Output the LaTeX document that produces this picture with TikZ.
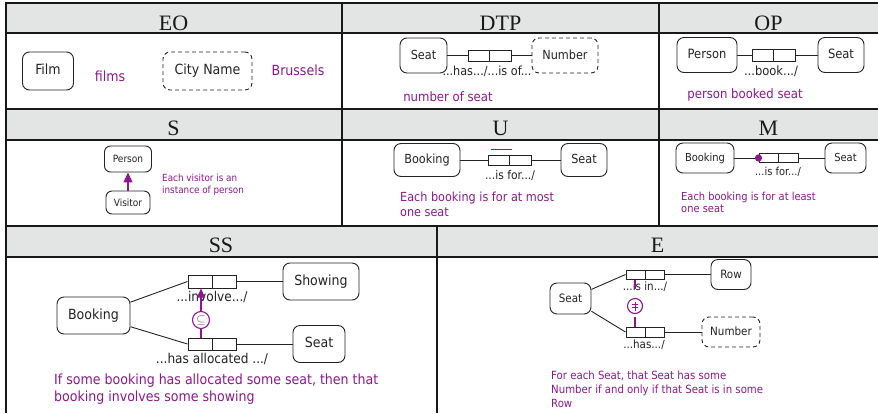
\documentclass[tikz,border=0pt]{standalone}
\usepackage{fontspec}
\setmainfont{DejaVu Sans Condensed}
\newfontfamily\titlefont{Liberation Serif}
\usetikzlibrary{arrows.meta}
\definecolor{orm}{RGB}{140,24,140}
\definecolor{hdr}{RGB}{227,228,228}
\definecolor{ink}{RGB}{35,35,35}
\newcommand\fsz[2]{\fontsize{#1}{#2}\selectfont}
\begin{document}
\begin{tikzpicture}[x=1pt,y=-1pt,
  ent/.style={draw=ink, line width=0.9pt, rounded corners=7pt, inner sep=0pt,
    text=ink, text height=0.73em, text depth=0pt},
  valuebox/.style={ent, dash pattern=on 4pt off 3pt},
  role/.style={draw=ink, line width=1pt, inner sep=0pt,
    path picture={\draw[ink, line width=1pt] (path picture bounding box.north) -- (path picture bounding box.south);}},
  link/.style={draw=ink, line width=0.9pt},
  lbl/.style={text=ink, inner sep=0pt, text height=0.73em, text depth=0pt},
  note/.style={text=orm, inner sep=0pt, align=left},
  ttl/.style={font=\titlefont\fsz{22}{26}, inner sep=0pt, anchor=base, text=black!90},
  gridline/.style={line width=2pt, draw=black!90},
  cons/.style={draw=orm, line width=1.1pt, circle, inner sep=0pt},
  consline/.style={draw=orm, line width=1.2pt}
]
\useasboundingbox (0,0) rectangle (878,413);

% header bands
\fill[hdr] (6,3) rectangle (878,33);
\fill[hdr] (6,108) rectangle (878,140);
\fill[hdr] (6,226) rectangle (878,257);

% table rules
\foreach \yy in {3,33,108.5,140,226,257}
  \draw[gridline] (5,\yy) -- (878,\yy);
\draw[gridline] (6,2) -- (6,413);
\draw[gridline] (342,3) -- (342,226);
\draw[gridline] (659,3) -- (659,226);
\draw[gridline] (437,226) -- (437,413);

% titles
\node[ttl] (tEO)  at (173.5,30.5) {EO};
\node[ttl] (tDTP) at (500.5,30.5) {DTP};
\node[ttl] (tOP)  at (768.5,30.5) {OP};
\node[ttl] (tS)   at (173.5,135.5) {S};
\node[ttl] (tU)   at (500.5,135.5) {U};
\node[ttl] (tM)   at (768.5,135.5) {M};
\node[ttl] (tSS)  at (221,252) {SS};
\node[ttl] (tE)   at (657.5,252) {E};

% ---------- EO ----------
\begin{scope}[font=\fsz{14}{17}]
\node[ent, minimum width=51, minimum height=38] (film) at (48,71) {Film};
\node[note] (films) at (110,76) {films};
\node[valuebox, minimum width=89, minimum height=38] (city) at (207.5,71) {City Name};
\node[note, text height=0.73em] (bru) at (298,72) {Brussels};
\end{scope}

% ---------- DTP ----------
\begin{scope}[font=\fsz{12.5}{15}]
\node[ent, minimum width=47, minimum height=35] (dseat) at (423.5,55.5) {Seat};
\node[role, minimum width=43, minimum height=11] (drole) at (489.5,55.5) {};
\node[valuebox, minimum width=66, minimum height=35] (dnum) at (565,55.5) {Number};
\draw[link] (dseat) -- (drole);
\draw[link] (drole) -- (dnum);
\node[lbl] (dlab) at (487,71.5) {...has.../...is of...};
\node[note, font=\fsz{13}{15}] (dnote) at (448,96.5) {number of seat};
\end{scope}

% ---------- OP ----------
\begin{scope}[font=\fsz{12.8}{15}]
\node[ent, minimum width=60, minimum height=35] (operson) at (707,55) {Person};
\node[role, minimum width=43, minimum height=12] (orole) at (773.5,55) {};
\node[ent, minimum width=46, minimum height=35] (oseat) at (841,55) {Seat};
\draw[link] (operson) -- (orole);
\draw[link] (orole) -- (oseat);
\node[lbl] (olab) at (771,72) {...book.../};
\node[note, font=\fsz{13}{15}] (onote) at (745,95) {person booked seat};
\end{scope}

% ---------- S ----------
\begin{scope}[font=\fsz{10}{12}]
\node[ent, rounded corners=6pt, minimum width=47, minimum height=26] (sperson) at (128,159) {Person};
\node[ent, rounded corners=6pt, minimum width=44, minimum height=23] (svisitor) at (128,202.5) {Visitor};
\draw[orm, line width=1.2pt, -{Triangle[length=10pt,width=9pt]}] (svisitor) -- (sperson);
\node[note, anchor=north west, font=\fsz{9.8}{12}] (snote) at (162,173.5) {Each visitor is an\\instance of person};
\end{scope}

% ---------- U ----------
\begin{scope}[font=\fsz{12.5}{15}]
\node[ent, minimum width=66, minimum height=33] (ubook) at (427,160) {Booking};
\node[role, minimum width=43, minimum height=10] (urole) at (509.5,160) {};
\node[ent, minimum width=46, minimum height=33] (useat) at (584,160) {Seat};
\draw[link] (ubook) -- (urole);
\draw[link] (urole) -- (useat);
\draw[orm, line width=1.2pt] ([shift={(3,-5)}]urole.north west) -- ([shift={(2,-5)}]urole.north);
\node[lbl, font=\fsz{12}{14}] (ulab) at (510,175.5) {...is for.../};
\node[note, anchor=north west, font=\fsz{12.5}{15.5}] (unote) at (400,191.5) {Each booking is for at most\\one seat};
\end{scope}

% ---------- M ----------
\begin{scope}[font=\fsz{11}{13}]
\node[ent, minimum width=58, minimum height=30] (mbook) at (705,158) {Booking};
\node[role, minimum width=39, minimum height=9] (mrole) at (778.5,158) {};
\node[ent, minimum width=41, minimum height=30] (mseat) at (845.5,158) {Seat};
\draw[link] (mbook) -- (mrole);
\draw[link] (mrole) -- (mseat);
\fill[orm] (mrole.west) circle (3.6);
\node[lbl] (mlab) at (778,172) {...is for.../};
\node[note, anchor=north west, font=\fsz{11}{12.5}] (mnote) at (681,191.5) {Each booking is for at least\\one seat};
\end{scope}

% ---------- SS ----------
\begin{scope}[font=\fsz{14}{17}]
\node[ent, minimum width=73, minimum height=37] (ssbook) at (93.5,315.5) {Booking};
\node[role, minimum width=48, minimum height=13] (ssr1) at (212,281.5) {};
\node[ent, minimum width=76, minimum height=37] (ssshow) at (321,281.5) {Showing};
\node[role, minimum width=48, minimum height=12] (ssr2) at (212,344) {};
\node[ent, minimum width=52, minimum height=37] (ssseat) at (319,344) {Seat};
\draw[link] (ssbook) -- (ssr1.west);
\draw[link] (ssbook) -- (ssr2.west);
\draw[link] (ssr1) -- (ssshow);
\draw[link] (ssr2) -- (ssseat);
\node[lbl, font=\fsz{13.5}{16}] (sslab1) at (212,297.5) {...involve.../};
\node[lbl, font=\fsz{13.5}{16}] (sslab2) at (212,360) {...has allocated .../};
\node[cons, minimum size=17] (ssc) at (201,320) {\color{orm}\fsz{13}{14}$\subseteq$};
\draw[consline, -{Triangle[length=9pt,width=8pt]}] (ssc.north) -- (ssc.north |- ssr1.south);
\draw[consline] (ssc.south) -- (ssc.south |- ssr2.north);
\node[note, anchor=north west] (ssnote) at (54,373.5) {If some booking has allocated some seat, then that\\booking involves some showing};
\end{scope}

% ---------- E ----------
\begin{scope}[font=\fsz{11.5}{14}]
\node[ent, minimum width=41, minimum height=31] (eseat) at (570.5,298.5) {Seat};
\node[role, minimum width=38, minimum height=9] (er1) at (645,274.5) {};
\node[ent, minimum width=40, minimum height=30] (erow) at (731,274.5) {Row};
\node[role, minimum width=38, minimum height=10] (er2) at (645,332) {};
\node[valuebox, minimum width=58, minimum height=30] (enum) at (731,332) {Number};
\draw[link] (eseat) -- (er1.west);
\draw[link] (eseat) -- (er2.west);
\draw[link] (er1) -- (erow);
\draw[link] (er2) -- (enum);
\node[lbl] (elab1) at (645,287) {...is in.../};
\node[lbl] (elab2) at (644,345) {...has.../};
\node[cons, minimum size=15,
  path picture={
    \draw[orm, line width=0.9pt]
      ([shift={(-3.3,-1.7)}]path picture bounding box.center) -- ++(6.6,0)
      ([shift={(-3.3,1.7)}]path picture bounding box.center) -- ++(6.6,0)
      ([shift={(0,-4.5)}]path picture bounding box.center) -- ++(0,9);
  }] (ec) at (635,306) {};
\coordinate (etick) at (635,289);
\draw[consline] (ec.north |- er1.south) -- (etick);
\draw[consline, shorten <=3pt] (ec.south) -- (ec.south |- er2.north);
\node[note, anchor=north west, font=\fsz{11.3}{14}] (enote) at (551,370.5) {For each Seat, that Seat has some\\Number if and only if that Seat is in some\\Row};
\end{scope}
\end{tikzpicture}
\end{document}
